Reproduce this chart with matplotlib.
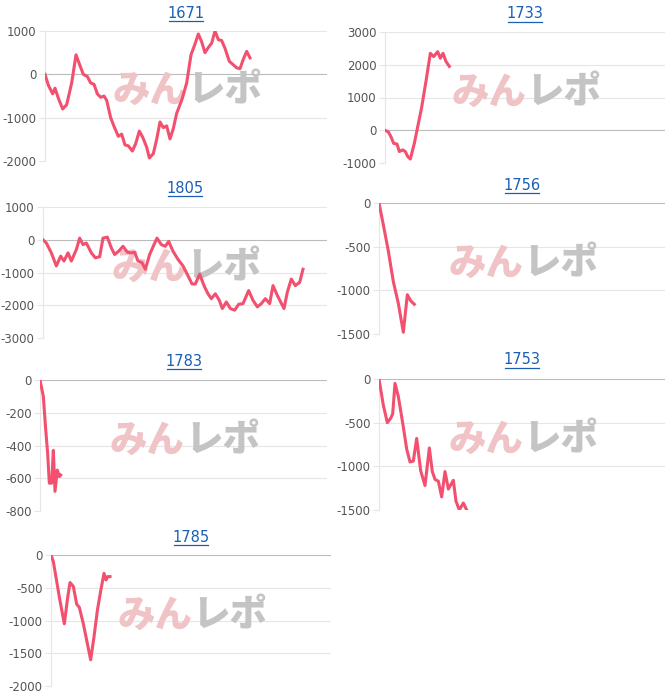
import matplotlib
matplotlib.use("Agg")
import matplotlib.pyplot as plt
from matplotlib.lines import Line2D

plt.rcParams['font.family'] = ['DejaVu Sans']

titles = ["1671", "1733", "1805", "1756", "1783", "1753", "1785"]

x_1671 = [0,10,23,30,40,53,65,80,93,105,115,127,137,147,157,167,177,185,197,207,220,230,240,250,262,272,283,293,305,313,325,335,345,355,365,375,385,395,410,425,438,450,460,470,480,490,500,510,520,530,540,553,565,575,585,595,605,615]
y_1671 = [0,-250,-450,-320,-550,-800,-700,-200,450,200,0,-50,-200,-230,-450,-530,-500,-600,-1000,-1200,-1430,-1380,-1630,-1650,-1770,-1600,-1310,-1450,-1680,-1930,-1830,-1500,-1100,-1230,-1190,-1490,-1250,-900,-600,-200,450,700,930,750,500,620,720,1000,800,780,600,300,220,150,130,350,530,380]

x_1805 = [0,10,25,40,53,63,75,85,100,110,120,130,145,157,170,180,193,205,215,227,240,253,265,275,285,297,307,320,333,342,355,367,377,390,405,420,435,447,457,470,483,495,505,517,529,538,550,562,575,587,600,617,630,643,655,667,680,690,703,713,723,733,745,757,770,780]
y_1805 = [0,-100,-400,-800,-500,-650,-400,-650,-300,50,-150,-100,-400,-550,-520,50,80,-250,-450,-350,-200,-380,-400,-380,-650,-700,-900,-450,-150,50,-150,-200,-50,-350,-600,-800,-1100,-1350,-1350,-1050,-1400,-1650,-1800,-1650,-1850,-2100,-1900,-2100,-2150,-1970,-1950,-1550,-1850,-2050,-1950,-1800,-1950,-1400,-1700,-1900,-2100,-1600,-1200,-1400,-1300,-900]

x_1733 = [0,10,18,26,36,43,53,61,68,76,88,100,110,123,136,146,158,166,174,183,193]
y_1733 = [0,-50,-200,-400,-420,-650,-600,-650,-800,-880,-400,200,700,1500,2350,2250,2400,2200,2350,2100,1950]

x_1756 = [0,13,28,43,58,73,85,95,106]
y_1756 = [0,-250,-550,-900,-1150,-1480,-1050,-1120,-1160]

x_1783 = [0,10,17,23,28,35,40,45,52,58,62]
y_1783 = [0,-100,-300,-450,-630,-630,-430,-680,-550,-590,-580]

x_1753 = [0,13,25,35,41,48,58,73,83,93,103,113,125,138,151,160,168,178,188,198,208,223,231,241,253,263]
y_1753 = [0,-300,-500,-450,-400,-50,-200,-550,-800,-950,-940,-680,-1050,-1220,-790,-1060,-1150,-1170,-1350,-1060,-1260,-1160,-1400,-1500,-1420,-1500]

x_1785 = [0,7,17,27,40,50,57,67,77,85,97,109,119,129,139,149,159,165,170,177]
y_1785 = [0,-100,-400,-700,-1050,-650,-420,-480,-750,-800,-1050,-1350,-1600,-1250,-850,-550,-280,-380,-330,-330]

series = {
    "1671": (x_1671, y_1671, [-2000, -1000, 0, 1000]),
    "1733": (x_1733, y_1733, [-1000, 0, 1000, 2000, 3000]),
    "1805": (x_1805, y_1805, [-3000, -2000, -1000, 0, 1000]),
    "1756": (x_1756, y_1756, [-1500, -1000, -500, 0]),
    "1783": (x_1783, y_1783, [-800, -600, -400, -200, 0]),
    "1753": (x_1753, y_1753, [-1500, -1000, -500, 0]),
    "1785": (x_1785, y_1785, [-2000, -1500, -1000, -500, 0]),
}

W, H = 668, 696
fig = plt.figure(figsize=(W/100, H/100), dpi=100)

boxes = {
    "1671": (45, 327, 31, 161),
    "1733": (385, 665, 32, 163),
    "1805": (43, 327, 207, 338),
    "1756": (379, 665, 203, 334),
    "1783": (40, 327, 380, 511),
    "1753": (379, 665, 379, 510),
    "1785": (51, 331, 555, 686),
}
title_y = {"1671": 13, "1733": 14, "1805": 188, "1756": 185, "1783": 361, "1753": 360, "1785": 537}

line_color = "#f2506e"
for name in titles:
    x, y, ticks = series[name]
    l, r, t, b = boxes[name]
    ax = fig.add_axes([l/W, 1-b/H, (r-l)/W, (b-t)/H])
    ax.plot(x, y, color=line_color, lw=2.2, solid_joinstyle='round', zorder=3)
    ax.set_xlim(0, (r-l)*3)
    ax.set_ylim(ticks[0], ticks[-1])
    ax.set_yticks(ticks)
    ax.set_yticklabels([str(v) for v in ticks], fontsize=8.5, color="#555555")
    ax.set_xticks([])
    for s in ["top", "right", "bottom"]:
        ax.spines[s].set_visible(False)
    ax.spines["left"].set_color("#e6e6e6")
    ax.tick_params(axis='y', length=4, color="#e6e6e6", pad=2)
    for v in ticks:
        ax.axhline(v, color="#bbbbbb" if v == 0 else "#e6e6e6", lw=0.8, zorder=1)
    ax.text(0.505, 0.54, "みん", transform=ax.transAxes, fontsize=27, fontweight='black',
            family=['Noto Sans CJK JP', 'DejaVu Sans'], color="#f0c4c6", ha='right', va='center',
            zorder=2)
    ax.text(0.505, 0.54, "レポ", transform=ax.transAxes, fontsize=27, fontweight='black',
            family=['Noto Sans CJK JP', 'DejaVu Sans'], color="#c4c4c4", ha='left', va='center',
            zorder=2)
    cx = (l + r) / 2 / W
    ty = 1 - title_y[name] / H
    fig.text(cx, ty, name, ha='center', va='center', fontsize=10.5, color="#1a5fb4")
    fig.add_artist(Line2D([cx - 17/W, cx + 17/W], [ty - 8/H, ty - 8/H], color="#1a5fb4", lw=0.9))

fig.savefig("out.png", dpi=100, facecolor="white")
